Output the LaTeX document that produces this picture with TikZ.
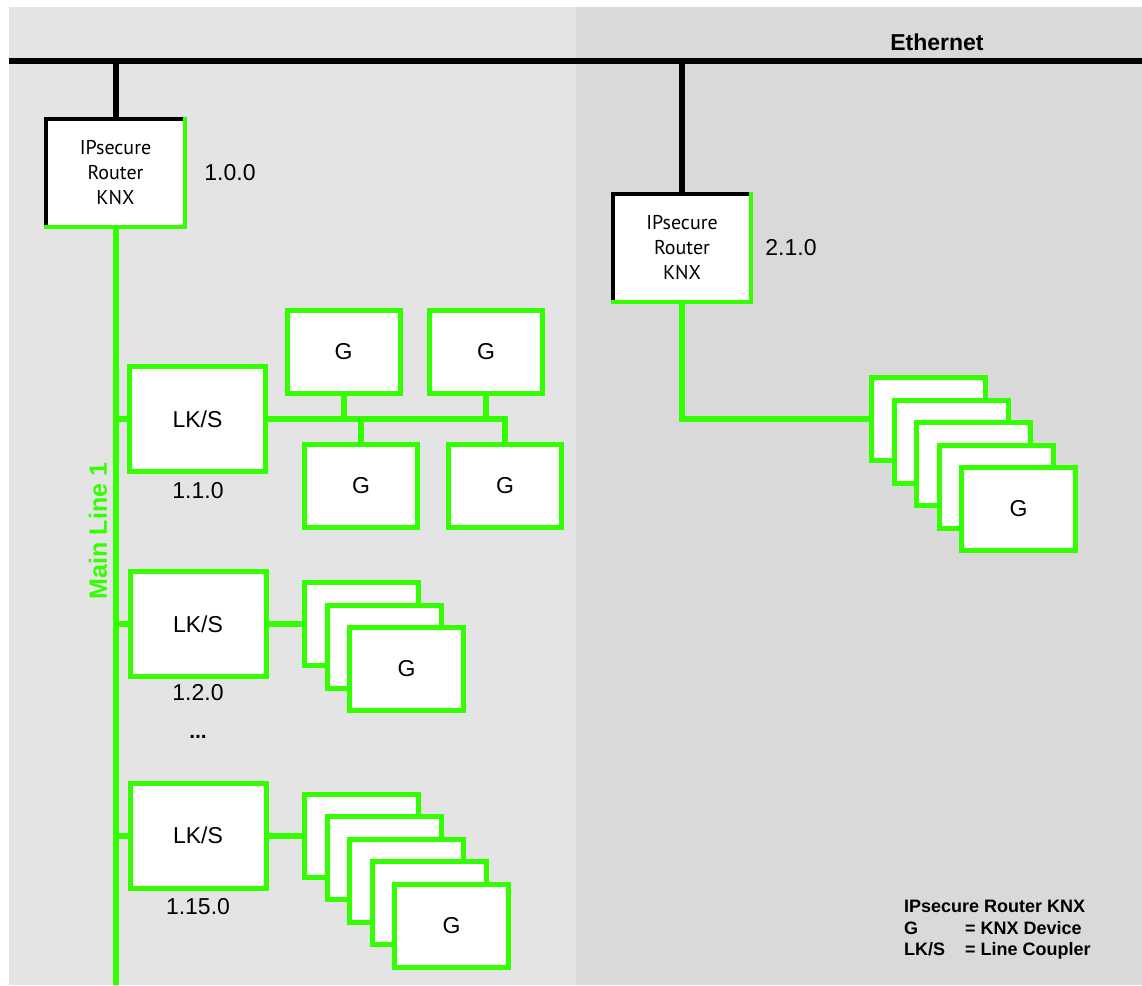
\documentclass[tikz,border=0pt]{standalone}
\usepackage{fontspec}
\setmainfont{Liberation Sans}
\newfontfamily\routerfont{PT Sans}
\definecolor{kgreen}{RGB}{51,255,0}
\definecolor{bgl}{RGB}{228,228,228}
\definecolor{bgr}{RGB}{217,217,217}
\begin{document}
\begin{tikzpicture}[x=1pt,y=-1pt,
  gbox/.style={draw=kgreen, line width=5pt, fill=white, minimum width=113pt, minimum height=83pt, inner sep=0pt, font=\fontsize{23}{27}\selectfont},
  sbox/.style={gbox, minimum width=114pt},
  lks/.style={gbox, minimum width=136pt, minimum height=105pt},
  router/.style={fill=white, minimum width=138pt, minimum height=107pt, inner sep=0pt, align=center, font=\routerfont\fontsize{20}{25}\selectfont},
  bus/.style={draw=kgreen, line width=6pt},
  ebus/.style={draw=black, line width=6pt},
  rblack/.style={draw=black, line width=4pt, line cap=rect},
  rgreen/.style={draw=kgreen, line width=4pt, line cap=rect},
  lbl/.style={inner sep=0pt, font=\fontsize{23}{27}\selectfont}]
\useasboundingbox (0,0) rectangle (1142,985);
\fill[white] (0,0) rectangle (1142,985);
\fill[bgl] (9,7) rectangle (576,985);
\fill[bgr] (576,7) rectangle (1142,985);

\coordinate (ethL) at (9,61);
\coordinate (ethR) at (1142,61);
\coordinate (mlbot) at (115.5,985);

% routers
\node[router] (r1) at (115.5,173) {IPsecure\\Router\\KNX};
\node[router] (r2) at (682,248) {IPsecure\\Router\\KNX};

% line couplers
\node[lks] (lks1) at (197.5,419) {LK/S};
\node[lks] (lks2) at (198,624) {LK/S};
\node[lks] (lks3) at (198,835.5) {LK/S};

% devices of line 1.1
\node[gbox] (g1) at (343.5,351.5) {G};
\node[gbox] (g2) at (486,351.5) {G};
\node[gbox] (g3) at (361,485.5) {G};
\node[gbox] (g4) at (505,485.5) {G};

% stack of line 1.2
\node[sbox] (s2a) at (361.5,624) {};
\node[sbox] (s2b) at (384,646.5) {};
\node[sbox] (s2c) at (406.5,669) {G};

% stack of line 1.15
\node[sbox] (s3a) at (361.5,835.5) {};
\node[sbox] (s3b) at (384,858) {};
\node[sbox] (s3c) at (406.5,880.5) {};
\node[sbox] (s3d) at (429,903) {};
\node[sbox] (s3e) at (451.5,925.5) {G};

% stack of router 2
\node[sbox] (rsa) at (928.5,419) {};
\node[sbox] (rsb) at (951,441.5) {};
\node[sbox] (rsc) at (973.5,464) {};
\node[sbox] (rsd) at (996,486.5) {};
\node[sbox] (rse) at (1018.5,509) {G};

% router borders
\draw[rblack] (r1.south west) -- (r1.north west) -- (r1.north east);
\draw[rgreen] (r1.north east) -- (r1.south east) -- (r1.south west);
\draw[rblack] (r2.south west) -- (r2.north west) -- (r2.north east);
\draw[rgreen] (r2.north east) -- (r2.south east) -- (r2.south west);

% ethernet
\draw[ebus] (ethL) -- (ethR);
\draw[ebus] (r1.north |- ethL) -- (r1.north);
\draw[ebus] (r2.north |- ethL) -- (r2.north);

% main line
\draw[bus] (r1.south) -- (mlbot);
\draw[bus] (lks1.west -| mlbot) -- (lks1.west);
\draw[bus] (lks2.west -| mlbot) -- (lks2.west);
\draw[bus] (lks3.west -| mlbot) -- (lks3.west);

% line 1.1 bus
\draw[bus, line join=miter] (lks1.east) -- (g4.north |- lks1.east) -- (g4.north);
\draw[bus] (g1.south) -- (g1.south |- lks1.east);
\draw[bus] (g2.south) -- (g2.south |- lks1.east);
\draw[bus] (g3.north |- lks1.east) -- (g3.north);

% other lines
\draw[bus] (lks2.east) -- (s2a.west);
\draw[bus] (lks3.east) -- (s3a.west);
\draw[bus, line join=miter] (r2.south) |- (rsa.west);

% labels
\node[lbl] (a100) at (230,173) {1.0.0};
\node[lbl] (a210) at (791,248) {2.1.0};
\node[lbl] (a110) at (198,491) {1.1.0};
\node[lbl] (a120) at (198,693) {1.2.0};
\node[lbl] (a1150) at (198,907) {1.15.0};
\node[inner sep=0pt, font=\bfseries\fontsize{21}{24}\selectfont] (dots) at (198,737) {...};
\node[inner sep=0pt, font=\bfseries\fontsize{23}{27}\selectfont] (eth) at (937,42) {Ethernet};
\node[inner sep=0pt, rotate=90, text=kgreen, font=\bfseries\fontsize{25}{28}\selectfont] (ml) at (98,531) {Main Line 1};
\node[inner sep=0pt, anchor=north west, align=left, font=\bfseries\fontsize{18}{21.5}\selectfont] (legend) at (904,900)
  {IPsecure Router KNX\\\makebox[61pt][l]{G}= KNX Device\\\makebox[61pt][l]{LK/S}= Line Coupler};
\end{tikzpicture}
\end{document}
